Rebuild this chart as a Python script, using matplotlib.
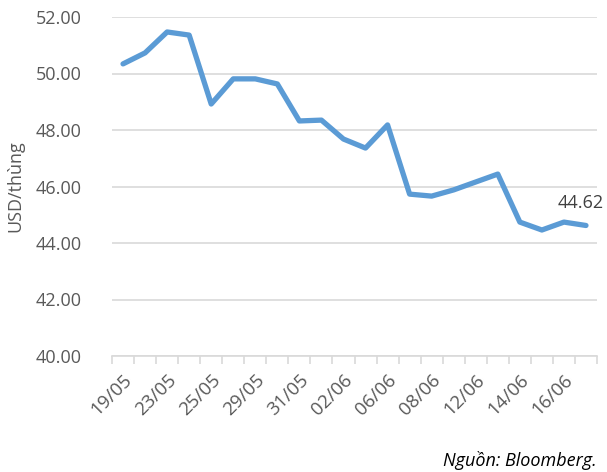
import matplotlib
matplotlib.use('Agg')
import numpy as np
from matplotlib import pyplot as plt

dates = ['19/05', '22/05', '23/05', '24/05', '25/05', '26/05', '29/05', '30/05',
         '31/05', '01/06', '02/06', '05/06', '06/06', '07/06', '08/06', '09/06',
         '12/06', '13/06', '14/06', '15/06', '16/06', '19/06']
prices = [50.34, 50.73, 51.47, 51.36, 48.92, 49.81, 49.81, 49.63,
          48.32, 48.35, 47.68, 47.36, 48.18, 45.73, 45.66, 45.88,
          46.16, 46.44, 44.74, 44.46, 44.74, 44.62]
yticks = [40, 42, 44, 46, 48, 50, 52]

plt.rcParams['font.family'] = ['Open Sans', 'DejaVu Sans']
gray = '#595959'

fig = plt.figure(figsize=(6.07, 4.72), dpi=100)
ax = fig.add_axes([112 / 607, 1 - 356 / 472, (597 - 112) / 607, (356 - 17) / 472])

x = np.arange(len(dates))
ax.plot(x, prices, color='#5B9BD5', lw=3.8, solid_joinstyle='round', solid_capstyle='round', zorder=3)
ax.annotate('%.2f' % prices[-1], (x[-1], prices[-1]), xytext=(-4, 10), textcoords='offset points',
            ha='center', va='bottom', fontsize=13, color='#404040')

ax.set_xlim(-0.5, len(dates) - 0.5)
ax.set_ylim(40, 52)
ax.set_yticks(yticks)
ax.set_yticklabels(['%.2f' % v for v in yticks], fontsize=13, color=gray)
ax.grid(axis='y', color='#D9D9D9', lw=1.2)
ax.set_axisbelow(True)

ax.set_xticks(x[::2])
ax.set_xticklabels(dates[::2], rotation=45, ha='right', rotation_mode='anchor', fontsize=13.5, color=gray)
ax.set_xticks(np.arange(len(dates) + 1) - 0.5, minor=True)
ax.tick_params(axis='x', which='major', length=0, pad=11)
ax.tick_params(axis='x', which='minor', length=6, color='#D9D9D9', width=1.2)
ax.tick_params(axis='y', length=0, pad=22)

for s in ['top', 'right', 'left']:
    ax.spines[s].set_visible(False)
ax.spines['bottom'].set_color('#D9D9D9')
ax.spines['bottom'].set_linewidth(1.2)

ax.set_ylabel('USD/thùng', fontsize=13, color=gray, labelpad=8)

fig.text(597 / 607, 1 - 461 / 472, 'Nguồn: Bloomberg.', ha='right', va='center',
         fontsize=13, style='italic', color='black')

fig.savefig('out.png', dpi=100)
